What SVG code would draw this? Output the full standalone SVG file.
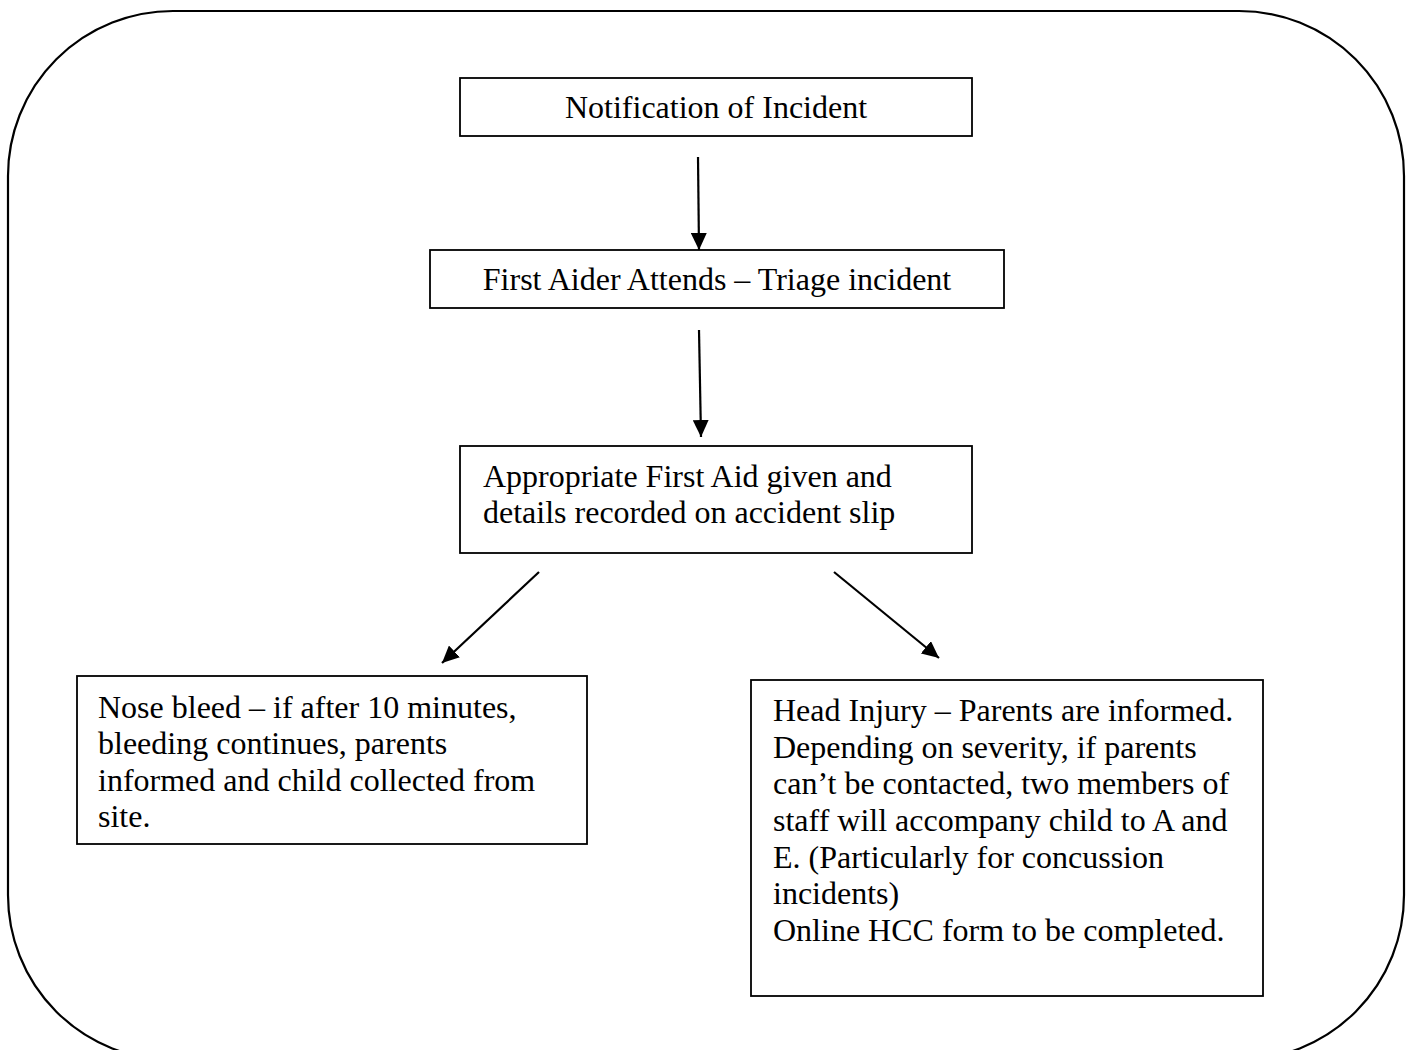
<svg xmlns="http://www.w3.org/2000/svg" width="1410" height="1050" viewBox="0 0 1410 1050">
<style>
.box{fill:#fff;stroke:#000;stroke-width:1.8}
.t{font-family:"Liberation Serif","Times New Roman",serif;font-size:32px;fill:#000}
.c{text-anchor:middle}
.conn line{stroke:#000;stroke-width:2.2;marker-end:url(#ah)}
</style>
<defs>
<marker id="ah" viewBox="0 0 10 10" refX="10" refY="5" markerUnits="userSpaceOnUse" markerWidth="17" markerHeight="16" orient="auto" preserveAspectRatio="none">
<path d="M0,0 L10,5 L0,10 z" fill="#000"/>
</marker>
</defs>
<rect width="1410" height="1050" fill="#fff"/>
<rect id="frame" x="8" y="11" width="1396" height="1049" rx="165" ry="165" fill="none" stroke="#000" stroke-width="2.2"/>
<g id="n1">
<rect class="box" x="460" y="78" width="512" height="58"/>
<text class="t c" x="716" y="118">Notification of Incident</text>
</g>
<g id="n2">
<rect class="box" x="430" y="250" width="574" height="58"/>
<text class="t c" x="717" y="290">First Aider Attends – Triage incident</text>
</g>
<g id="n3">
<rect class="box" x="460" y="446" width="512" height="107"/>
<text class="t" x="483" y="487">Appropriate First Aid given and</text>
<text class="t" x="483" y="523">details recorded on accident slip</text>
</g>
<g id="n4">
<rect class="box" x="77" y="676" width="510" height="168"/>
<text class="t" x="98" y="718">Nose bleed – if after 10 minutes,</text>
<text class="t" x="98" y="754">bleeding continues, parents</text>
<text class="t" x="98" y="791">informed and child collected from</text>
<text class="t" x="98" y="827">site.</text>
</g>
<g id="n5">
<rect class="box" x="751" y="680" width="512" height="316"/>
<text class="t" x="773" y="721">Head Injury – Parents are informed.</text>
<text class="t" x="773" y="758">Depending on severity, if parents</text>
<text class="t" x="773" y="794">can’t be contacted, two members of</text>
<text class="t" x="773" y="831">staff will accompany child to A and</text>
<text class="t" x="773" y="868">E. (Particularly for concussion</text>
<text class="t" x="773" y="904">incidents)</text>
<text class="t" x="773" y="941">Online HCC form to be completed.</text>
</g>
<g id="connectors" class="conn">
<line x1="698" y1="157" x2="699" y2="250"/>
<line x1="699" y1="330" x2="701" y2="437"/>
<line x1="539" y1="572" x2="442" y2="663"/>
<line x1="834" y1="572" x2="939" y2="658"/>
</g>
</svg>
